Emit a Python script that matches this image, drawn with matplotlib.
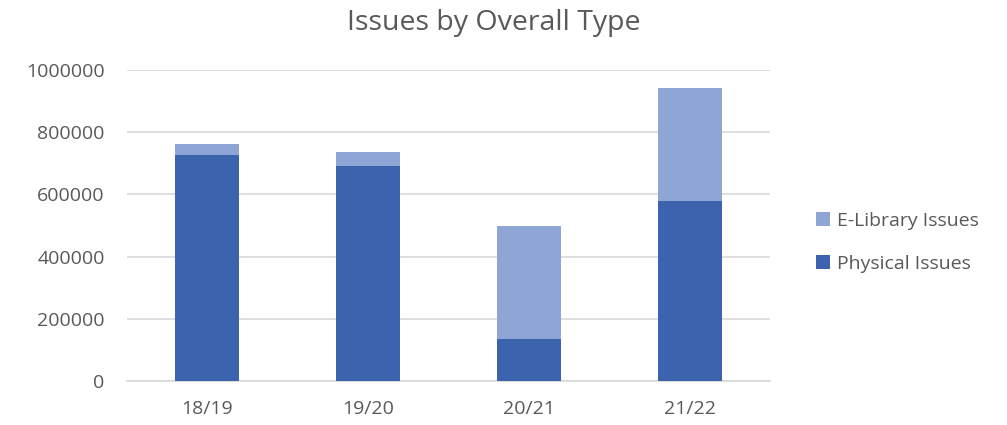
import numpy as np
import matplotlib.pyplot as plt

years = ['18/19', '19/20', '20/21', '21/22']
physical = [727000, 692000, 135000, 579000]
elibrary = [35000, 45000, 363000, 364000]

c_phys = '#3C64AE'
c_elib = '#8FA5D5'
grey = '#595959'

plt.rcParams['font.family'] = ['Open Sans', 'DejaVu Sans']

fig = plt.figure(figsize=(10.07, 4.25), dpi=100)
ax = fig.add_axes([0.126, 0.1035, 0.639, 0.7315])

x = np.arange(len(years))
b1 = ax.bar(x, physical, width=0.4, color=c_phys, label='Physical Issues', zorder=3)
b2 = ax.bar(x, elibrary, width=0.4, bottom=physical, color=c_elib, label='E-Library Issues', zorder=3)

ax.set_xlim(-0.5, 3.5)
ax.set_ylim(0, 1000000)
ax.set_yticks(np.arange(0, 1000001, 200000))
ax.set_yticklabels([str(v) for v in range(0, 1000001, 200000)])
ax.set_xticks(x)
ax.set_xticklabels(years)
ax.grid(axis='y', color='#D9D9D9', linewidth=1.2, zorder=0)
ax.tick_params(axis='both', length=0, labelsize=14, colors=grey)
ax.tick_params(axis='y', pad=16)
ax.tick_params(axis='x', pad=14)
for s in ['top', 'right', 'left']:
    ax.spines[s].set_visible(False)
ax.spines['bottom'].set_color('#D9D9D9')
ax.spines['bottom'].set_linewidth(1.2)

fig.text(0.49, 0.945, 'Issues by Overall Type', ha='center', va='center', fontsize=20.5, color=grey)

leg = fig.legend(handles=[b2, b1], labels=['E-Library Issues', 'Physical Issues'],
                 loc='center left', bbox_to_anchor=(0.793, 0.43), frameon=False,
                 fontsize=14, handlelength=0.7, handleheight=0.7, handletextpad=0.4,
                 labelspacing=1.3, labelcolor=grey)

fig.savefig('out.png', dpi=100)
